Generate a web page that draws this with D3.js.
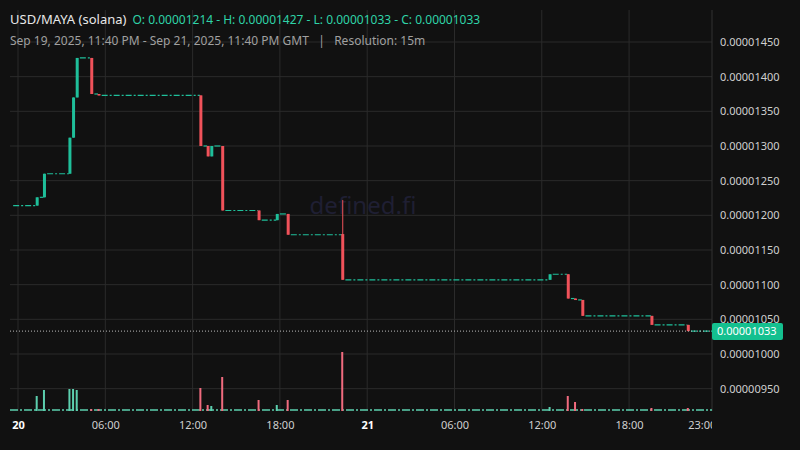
<!DOCTYPE html>
<html><head><meta charset="utf-8">
<script src="https://cdn.jsdelivr.net/npm/d3@7"></script>
<style>body{margin:0;background:#111111;}svg{display:block;font-family:"Noto Sans",sans-serif;}</style>
</head><body><svg id="c" width="800" height="450"></svg>
<script>
// hours since Sep 20 00:00 GMT (15m candles that moved); others are flat
const hours  = [1.25, 1.75, 3.5, 3.75, 4.0, 5.0, 5.5, 12.5, 13.0, 13.25, 14.0, 16.5, 17.75, 18.5, 22.25, 36.5, 37.75, 38.25, 38.75, 43.5, 46.0];
const opens  = [1214, 1226, 1260, 1312, 1370, 1427, 1375, 1373, 1300, 1285, 1300, 1207, 1193, 1202, 1173, 1107, 1115, 1080, 1078, 1055, 1042];
const highs  = [1226, 1260, 1312, 1370, 1427, 1427, 1375, 1373, 1300, 1300, 1300, 1207, 1202, 1202, 1222, 1115, 1115, 1080, 1078, 1055, 1042];
const lows   = [1214, 1226, 1260, 1312, 1370, 1375, 1373, 1300, 1285, 1285, 1207, 1193, 1193, 1172, 1107, 1107, 1080, 1078, 1055, 1042, 1033];
const closes = [1226, 1260, 1312, 1370, 1427, 1375, 1373, 1300, 1285, 1300, 1207, 1193, 1202, 1172, 1107, 1115, 1080, 1078, 1055, 1042, 1033];
const volumes= [15, 21, 22, 22, 21, 2, 2, 23, 6, 5, 34, 11, 6, 11, 59, 4, 15, 9, 2, 3, 3];
const startPrice = 1214;
const priceTicks = [950,1000,1050,1100,1150,1200,1250,1300,1350,1400,1450];
const lastPrice = 1033;

const svg = d3.select("#c");
const W=800,H=450, L=10, R=712, T=10, B=411;
const base = Date.UTC(2025,8,20,0,0);
const t = h => new Date(base + h*3600e3);
const x = d3.scaleUtc().domain([new Date(Date.UTC(2025,8,19,23,40)), new Date(Date.UTC(2025,8,22,0,0))]).range([13.15, 716.4]);
const y = d3.scaleLinear().domain([1000,1450]).range([354,42]);
const v = d3.scaleLinear().domain([0,59]).range([B,352]);
const fmt = p => (p*1e-8).toFixed(8);
const G="#1fbf9a", Rd="#f0525a", Gv="#5ccfae", Rv="#f06b7e";

svg.append("rect").attr("width",W).attr("height",H).attr("fill","#111111");
svg.append("defs").append("clipPath").attr("id","pc").append("rect").attr("x",0).attr("y",0).attr("width",R).attr("height",H);

// grid
const tTicks = d3.range(0,48,6).map(t).concat([t(23+24)]);
svg.append("g").selectAll("line").data(tTicks.slice(0,8)).join("line")
  .attr("x1",d=>x(d)).attr("x2",d=>x(d)).attr("y1",T).attr("y2",B).attr("stroke","#2b2b2b");
svg.append("g").selectAll("line").data(priceTicks.filter(p=>y(p)<B)).join("line")
  .attr("x1",L).attr("x2",R).attr("y1",d=>y(d)).attr("y2",d=>y(d)).attr("stroke","#2b2b2b");
svg.append("line").attr("x1",R).attr("x2",R).attr("y1",T).attr("y2",B).attr("stroke","#333");

// watermark
svg.append("text").attr("x",363).attr("y",214).attr("text-anchor","middle").attr("font-size",24).attr("fill","#1f1f33").text("defined.fi");

// price axis labels
svg.append("g").selectAll("text").data(priceTicks).join("text")
  .attr("x",720).attr("y",d=>y(d)+4).attr("font-size",11).attr("fill","#cfcfcf").text(fmt);

// time axis
const ax = svg.append("g").attr("transform",`translate(0,${B})`).attr("clip-path","url(#pc)")
  .call(d3.axisBottom(x).tickValues(tTicks).tickSize(0).tickPadding(10)
    .tickFormat(d=>{const h=d.getUTCHours(); return h===0? String(d.getUTCDate()) : d3.utcFormat("%H:%M")(d);}));
ax.select(".domain").remove();
ax.selectAll("text").attr("font-size",11).attr("fill","#cfcfcf").attr("font-family","Noto Sans")
  .attr("font-weight",d=>d.getUTCHours()===0?"bold":"normal");
ax.selectAll("text").filter(d=>d.getUTCHours()===0).attr("fill","#ffffff");

// flat price segments (dashed)
const segs=[];
segs.push({a:x.domain()[0], b:t(hours[0]), p:startPrice});
hours.forEach((h,i)=>segs.push({a:t(h+0.25), b: i<hours.length-1? t(hours[i+1]) : x.domain()[1], p:closes[i]}));
svg.append("g").selectAll("line").data(segs).join("line")
  .attr("x1",d=>x(d.a)).attr("x2",d=>Math.min(R,x(d.b))).attr("y1",d=>y(d.p)).attr("y2",d=>y(d.p))
  .attr("stroke",G).attr("stroke-width",1.2).attr("stroke-dasharray","6,2,2,2");

// volume flat baseline
svg.append("line").attr("x1",L).attr("x2",R).attr("y1",B-1).attr("y2",B-1).attr("stroke",Gv).attr("stroke-width",1.5).attr("stroke-dasharray","8,2,2,2");

const idx = d3.range(hours.length);
// volume bars
svg.append("g").selectAll("rect").data(idx).join("rect")
  .attr("x",i=>x(t(hours[i]))-0.5).attr("width",2).attr("y",i=>v(volumes[i])).attr("height",i=>B-v(volumes[i]))
  .attr("fill",i=>closes[i]>=opens[i]?Gv:Rv);

// candles
const cg = svg.append("g");
cg.selectAll("line").data(idx).join("line")
  .attr("x1",i=>x(t(hours[i]))+1).attr("x2",i=>x(t(hours[i]))+1)
  .attr("y1",i=>y(highs[i])).attr("y2",i=>y(lows[i]))
  .attr("stroke",i=>closes[i]>=opens[i]?G:Rd).attr("stroke-width",1);
cg.selectAll("rect").data(idx).join("rect")
  .attr("x",i=>x(t(hours[i]))-0.5).attr("width",3)
  .attr("y",i=>y(Math.max(opens[i],closes[i]))).attr("height",i=>Math.max(1.5,Math.abs(y(opens[i])-y(closes[i]))))
  .attr("fill",i=>closes[i]>=opens[i]?G:Rd);

// last price line + label
svg.append("line").attr("x1",L).attr("x2",R).attr("y1",y(lastPrice)).attr("y2",y(lastPrice))
  .attr("stroke","#bbbbbb").attr("stroke-dasharray","1,2");
svg.append("rect").attr("x",712).attr("y",y(lastPrice)-8).attr("width",71).attr("height",17).attr("rx",2).attr("fill","#14c08f");
svg.append("text").attr("x",717).attr("y",y(lastPrice)+4).attr("font-size",11).attr("fill","#ffffff").text(fmt(lastPrice));

// header
const h1 = svg.append("text").attr("x",10).attr("y",24).attr("font-size",13);
h1.append("tspan").attr("fill","#e8e8e8").text("USD/MAYA (solana)");
h1.append("tspan").attr("fill","#2fd3a8").attr("font-size",12).attr("dx",6)
  .text(`O: ${fmt(startPrice)} - H: ${fmt(d3.max(highs))} - L: ${fmt(d3.min(lows))} - C: ${fmt(lastPrice)}`);
svg.append("text").attr("x",10).attr("y",45).attr("font-size",12).attr("fill","#a0a0a0").attr("xml:space","preserve")
  .text("Sep 19, 2025, 11:40 PM - Sep 21, 2025, 11:40 PM GMT   |   Resolution: 15m");
</script></body></html>
